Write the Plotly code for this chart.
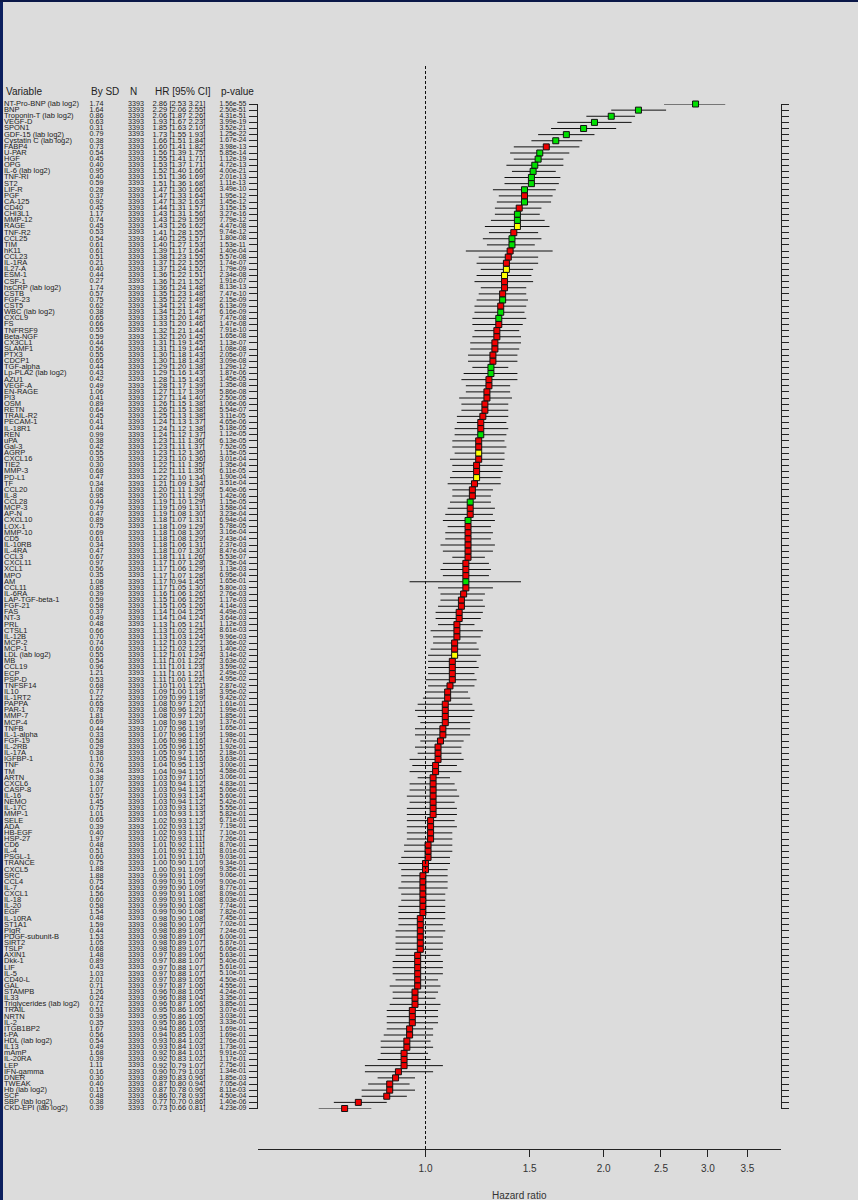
import math
import plotly.graph_objects as go

# ---- data -------------------------------------------------------------
variables = [
    "NT-Pro-BNP (lab log2)", "BNP", "Troponin-T (lab log2)", "VEGF-D", "SPON1",
    "GDF-15 (lab log2)", "Cystatin C (lab log2)", "FABP4", "U-PAR", "HGF",
    "OPG", "IL-6 (lab log2)", "TNF-RI", "ST2", "LIF-R", "PGF", "CA-125", "CD40",
    "CHI3L1", "MMP-12", "RAGE", "TNF-R2", "CCL25", "TIM", "hK11", "CCL23",
    "IL-1RA", "IL27-A", "ESM-1", "CSF-1", "hsCRP (lab log2)", "CSTB", "FGF-23",
    "CST5", "WBC (lab log2)", "CXCL9", "FS", "TNFRSF9", "Beta-NGF", "CX3CL1",
    "SLAMF1", "PTX3", "CDCP1", "TGF-alpha", "Lp-PLA2 (lab log2)", "AZU1",
    "VEGF-A", "EN-RAGE", "PI3", "OSM", "RETN", "TRAIL-R2", "PECAM-1", "IL-18R1",
    "REN", "uPA", "Gal-3", "AGRP", "CXCL16", "TIE2", "MMP-3", "PD-L1", "TF",
    "CCL20", "IL-8", "CCL28", "MCP-3", "AP-N", "CXCL10", "LOX-1", "MMP-10",
    "CD5", "IL-10RB", "IL-4RA", "CCL3", "CXCL11", "XCL1", "MPO", "AM", "CCL11",
    "IL-6RA", "LAP-TGF-beta-1", "FGF-21", "FAS", "NT-3", "PRL", "CTSL1",
    "IL-12B", "MCP-2", "MCP-1", "LDL (lab log2)", "MB", "CCL19", "ECP", "PSP-D",
    "TNFSF14", "IL10", "IL-1RT2", "PAPPA", "PAR-1", "MMP-7", "MCP-4", "TNFB",
    "IL-1-alpha", "FGF-19", "IL-2RB", "IL-17A", "IGFBP-1", "TNF", "TM", "ARTN",
    "CXCL6", "CASP-8", "IL-16", "NEMO", "IL-17C", "MMP-1", "SELE", "ADA",
    "HB-EGF", "HSP-27", "CD6", "IL-4", "PSGL-1", "TRANCE", "CXCL5", "SRC",
    "CCL4", "IL-7", "CXCL1", "IL-18", "IL-20", "EGF", "IL-10RA", "ST1A1",
    "PIgR", "PDGF-subunit-B", "SIRT2", "TSLP", "AXIN1", "Dkk-1", "LIF", "IL-5",
    "CD40-L", "GAL", "STAMPB", "IL33", "Triglycerides (lab log2)", "TRAIL",
    "NRTN", "IL-2", "ITGB1BP2", "t-PA", "HDL (lab log2)", "IL13", "mAmP",
    "IL-20RA", "LEP", "IFN-gamma", "DNER", "TWEAK", "Hb (lab log2)", "SCF",
    "SBP (lab log2)", "CKD-EPI (lab log2)",
]

by_sd = [
    1.74, 1.64, 0.86, 0.63, 0.31, 0.79, 0.38, 0.73, 0.54, 0.45,
    0.40, 0.95, 0.40, 0.59, 0.28, 0.37, 0.92, 0.45, 1.17, 0.74,
    0.45, 0.53, 0.54, 0.61, 0.61, 0.51, 0.21, 0.40, 0.44, 0.27,
    1.74, 0.57, 0.75, 0.62, 0.38, 0.65, 0.66, 0.55, 0.59, 0.44,
    0.56, 0.55, 0.65, 0.44, 0.43, 0.42, 0.49, 1.06, 0.41, 0.89,
    0.64, 0.45, 0.41, 0.44, 0.99, 0.38, 0.42, 0.55, 0.35, 0.30,
    0.68, 0.47, 0.34, 1.08, 0.95, 0.44, 0.79, 0.47, 0.89, 0.75,
    0.69, 0.61, 0.34, 0.47, 0.67, 0.97, 0.56, 0.35, 1.08, 0.85,
    0.39, 0.59, 0.58, 0.37, 0.49, 0.48, 0.66, 0.70, 0.74, 0.60,
    0.55, 0.54, 0.96, 1.21, 0.53, 0.68, 0.77, 1.22, 0.65, 0.78,
    1.81, 0.69, 0.44, 0.33, 0.58, 0.29, 0.38, 1.10, 0.76, 0.34,
    0.38, 1.07, 1.07, 0.57, 1.45, 0.75, 1.01, 0.65, 0.39, 0.40,
    1.97, 0.48, 0.51, 0.60, 0.75, 1.88, 1.88, 0.75, 0.64, 1.56,
    0.60, 0.58, 1.54, 0.48, 1.59, 0.44, 1.53, 1.05, 0.68, 1.48,
    0.89, 0.43, 1.03, 2.01, 0.71, 1.26, 0.24, 0.72, 0.51, 0.39,
    0.35, 1.67, 0.56, 0.54, 0.49, 1.68, 0.39, 1.11, 0.16, 0.30,
    0.40, 0.15, 0.48, 0.38, 0.39,
]

n_subjects = [3393] * len(variables)

hazard_ratio = [
    2.86, 2.29, 2.06, 1.93, 1.85, 1.73, 1.66, 1.60, 1.56, 1.55,
    1.53, 1.52, 1.51, 1.51, 1.47, 1.47, 1.47, 1.44, 1.43, 1.43,
    1.43, 1.41, 1.40, 1.40, 1.39, 1.38, 1.37, 1.37, 1.36, 1.36,
    1.36, 1.35, 1.35, 1.34, 1.34, 1.33, 1.33, 1.32, 1.32, 1.31,
    1.31, 1.30, 1.30, 1.29, 1.29, 1.28, 1.28, 1.27, 1.27, 1.26,
    1.26, 1.25, 1.24, 1.24, 1.24, 1.23, 1.23, 1.23, 1.23, 1.22,
    1.22, 1.22, 1.21, 1.20, 1.20, 1.19, 1.19, 1.19, 1.18, 1.18,
    1.18, 1.18, 1.18, 1.18, 1.18, 1.17, 1.17, 1.17, 1.17, 1.17,
    1.16, 1.15, 1.15, 1.14, 1.14, 1.13, 1.13, 1.13, 1.12, 1.12,
    1.12, 1.11, 1.11, 1.11, 1.11, 1.10, 1.09, 1.09, 1.08, 1.08,
    1.08, 1.08, 1.07, 1.07, 1.06, 1.05, 1.05, 1.05, 1.04, 1.04,
    1.03, 1.03, 1.03, 1.03, 1.03, 1.03, 1.03, 1.02, 1.02, 1.02,
    1.02, 1.01, 1.01, 1.01, 1.00, 1.00, 0.99, 0.99, 0.99, 0.99,
    0.99, 0.99, 0.99, 0.98, 0.98, 0.98, 0.98, 0.98, 0.98, 0.97,
    0.97, 0.97, 0.97, 0.97, 0.97, 0.96, 0.96, 0.96, 0.95, 0.95,
    0.95, 0.94, 0.94, 0.93, 0.93, 0.92, 0.92, 0.92, 0.90, 0.89,
    0.87, 0.87, 0.86, 0.77, 0.73,
]

ci_lower = [
    2.53, 2.06, 1.87, 1.67, 1.63, 1.55, 1.51, 1.41, 1.39, 1.41,
    1.37, 1.40, 1.36, 1.36, 1.30, 1.33, 1.32, 1.31, 1.31, 1.29,
    1.26, 1.28, 1.25, 1.27, 1.17, 1.23, 1.22, 1.24, 1.22, 1.21,
    1.24, 1.23, 1.22, 1.21, 1.21, 1.20, 1.20, 1.21, 1.20, 1.19,
    1.19, 1.18, 1.18, 1.20, 1.16, 1.15, 1.17, 1.17, 1.14, 1.15,
    1.15, 1.13, 1.13, 1.12, 1.12, 1.11, 1.11, 1.12, 1.10, 1.11,
    1.11, 1.10, 1.09, 1.11, 1.11, 1.10, 1.09, 1.08, 1.07, 1.09,
    1.08, 1.08, 1.06, 1.07, 1.11, 1.07, 1.06, 1.07, 0.94, 1.05,
    1.06, 1.06, 1.05, 1.04, 1.04, 1.05, 1.02, 1.03, 1.03, 1.02,
    1.01, 1.01, 1.01, 1.01, 1.00, 1.01, 1.00, 0.99, 0.97, 0.96,
    0.97, 0.98, 0.96, 0.96, 0.98, 0.96, 0.97, 0.94, 0.95, 0.94,
    0.97, 0.94, 0.94, 0.93, 0.94, 0.93, 0.93, 0.93, 0.93, 0.93,
    0.93, 0.92, 0.92, 0.91, 0.90, 0.91, 0.91, 0.91, 0.90, 0.91,
    0.91, 0.90, 0.90, 0.90, 0.90, 0.89, 0.89, 0.89, 0.89, 0.89,
    0.88, 0.88, 0.88, 0.89, 0.87, 0.88, 0.88, 0.87, 0.86, 0.86,
    0.86, 0.86, 0.85, 0.84, 0.84, 0.84, 0.83, 0.79, 0.79, 0.83,
    0.80, 0.78, 0.78, 0.70, 0.66,
]

ci_upper = [
    3.21, 2.55, 2.26, 2.23, 2.10, 1.93, 1.84, 1.82, 1.75, 1.71,
    1.71, 1.66, 1.69, 1.68, 1.66, 1.64, 1.63, 1.57, 1.56, 1.59,
    1.62, 1.55, 1.57, 1.53, 1.64, 1.55, 1.55, 1.52, 1.51, 1.52,
    1.48, 1.48, 1.49, 1.48, 1.47, 1.48, 1.46, 1.44, 1.45, 1.45,
    1.44, 1.43, 1.43, 1.38, 1.43, 1.43, 1.39, 1.39, 1.40, 1.38,
    1.38, 1.38, 1.37, 1.38, 1.37, 1.36, 1.37, 1.36, 1.36, 1.35,
    1.35, 1.34, 1.34, 1.30, 1.29, 1.29, 1.31, 1.30, 1.31, 1.29,
    1.30, 1.29, 1.31, 1.30, 1.26, 1.28, 1.29, 1.28, 1.45, 1.30,
    1.26, 1.25, 1.26, 1.25, 1.24, 1.21, 1.25, 1.24, 1.22, 1.23,
    1.24, 1.22, 1.23, 1.21, 1.22, 1.21, 1.18, 1.19, 1.20, 1.21,
    1.20, 1.19, 1.19, 1.19, 1.16, 1.15, 1.15, 1.16, 1.13, 1.15,
    1.10, 1.12, 1.13, 1.14, 1.12, 1.13, 1.13, 1.12, 1.13, 1.11,
    1.11, 1.11, 1.11, 1.10, 1.10, 1.09, 1.09, 1.09, 1.09, 1.08,
    1.08, 1.08, 1.08, 1.08, 1.07, 1.08, 1.07, 1.07, 1.07, 1.06,
    1.07, 1.07, 1.07, 1.05, 1.06, 1.05, 1.04, 1.06, 1.05, 1.05,
    1.05, 1.03, 1.03, 1.02, 1.03, 1.01, 1.02, 1.07, 1.03, 0.96,
    0.94, 0.96, 0.93, 0.86, 0.81,
]

p_values = [
    1.56e-55, 2.50e-51, 4.31e-51, 3.99e-19, 3.52e-21, 1.25e-22, 1.67e-24, 3.98e-13, 5.85e-14, 1.12e-19,
    4.72e-13, 4.00e-21, 2.01e-13, 1.11e-13, 3.49e-10, 1.95e-12, 1.45e-12, 3.15e-15, 3.27e-16, 7.79e-12,
    4.47e-08, 9.74e-12, 1.80e-08, 1.53e-11, 1.40e-04, 5.57e-08, 1.74e-07, 1.79e-09, 2.34e-08, 1.91e-07,
    8.13e-13, 7.47e-10, 2.15e-09, 6.13e-09, 6.16e-09, 7.47e-08, 1.47e-08, 7.91e-10, 1.65e-08, 1.13e-07,
    1.08e-08, 2.05e-07, 3.09e-08, 1.29e-12, 1.87e-06, 1.45e-05, 1.35e-08, 5.86e-08, 2.50e-05, 1.06e-06,
    5.54e-07, 3.11e-05, 4.65e-06, 5.18e-05, 1.12e-05, 6.13e-05, 7.52e-05, 1.15e-05, 3.01e-04, 1.35e-04,
    6.11e-05, 1.90e-04, 3.51e-04, 5.40e-06, 1.42e-06, 1.15e-05, 3.58e-04, 3.23e-04, 6.94e-04, 5.78e-05,
    3.16e-04, 2.43e-04, 2.37e-03, 8.47e-04, 5.53e-07, 3.75e-04, 1.13e-03, 6.95e-04, 1.65e-01, 5.80e-03,
    2.76e-03, 1.17e-03, 4.14e-03, 4.49e-03, 3.64e-03, 1.12e-03, 8.61e-03, 9.96e-03, 1.36e-02, 1.40e-02,
    3.14e-02, 3.63e-02, 3.59e-02, 2.49e-02, 4.95e-02, 2.87e-02, 3.95e-02, 9.42e-02, 1.61e-01, 1.99e-01,
    1.85e-01, 1.37e-01, 1.65e-01, 1.98e-01, 1.47e-01, 1.92e-01, 2.18e-01, 3.63e-01, 3.00e-01, 4.58e-01,
    3.06e-01, 4.83e-01, 5.06e-01, 5.60e-01, 5.42e-01, 5.55e-01, 5.82e-01, 6.71e-01, 7.19e-01, 7.10e-01,
    7.26e-01, 8.70e-01, 8.01e-01, 9.03e-01, 9.34e-01, 9.35e-01, 9.06e-01, 9.00e-01, 8.77e-01, 8.09e-01,
    8.03e-01, 7.74e-01, 7.82e-01, 7.45e-01, 7.02e-01, 7.24e-01, 6.00e-01, 5.87e-01, 6.06e-01, 5.63e-01,
    5.40e-01, 5.61e-01, 5.10e-01, 4.50e-01, 4.55e-01, 4.24e-01, 3.35e-01, 3.85e-01, 3.07e-01, 3.03e-01,
    3.33e-01, 1.69e-01, 1.69e-01, 1.76e-01, 1.73e-01, 9.91e-02, 1.17e-01, 2.75e-01, 1.34e-01, 1.85e-03,
    7.05e-04, 8.11e-03, 4.50e-04, 1.40e-06, 4.23e-09,
]

# marker class per variable: "g", "r" or "y"
marker_class = [
    "g", "g", "g", "g", "g", "g", "g", "r", "g", "g",
    "g", "g", "g", "g", "g", "r", "g", "r", "g", "g",
    "y", "r", "g", "g", "r", "r", "r", "y", "y", "r",
    "r", "r", "g", "r", "g", "g", "r", "r", "r", "r",
    "r", "r", "r", "g", "g", "r", "r", "r", "r", "r",
    "r", "r", "r", "r", "g", "r", "r", "y", "r", "r",
    "r", "y", "r", "r", "r", "g", "r", "r", "g", "r",
    "r", "r", "r", "r", "r", "r", "r", "r", "g", "r",
    "r", "r", "r", "r", "r", "r", "r", "r", "r", "r",
    "y", "r", "r", "r", "r", "r", "r", "r", "r", "r",
    "r", "r", "r", "r", "r", "r", "r", "r", "r", "r",
    "r", "r", "r", "r", "r", "r", "r", "r", "r", "r",
    "r", "r", "r", "r", "r", "r", "r", "r", "r", "r",
    "r", "r", "r", "r", "r", "r", "r", "r", "r", "r",
    "r", "r", "r", "r", "r", "r", "r", "r", "r", "r",
    "r", "r", "r", "r", "r", "r", "r", "r", "r", "r",
    "r", "r", "r", "r", "r",
]

x_ticks = [1.0, 1.5, 2.0, 2.5, 3.0, 3.5]
x_tick_labels = ["1.0", "1.5", "2.0", "2.5", "3.0", "3.5"]
column_headers = ["Variable", "By SD", "N", "HR [95% CI]", "p-value"]

# ---- styling ----------------------------------------------------------
W, H = 858, 1200
BG = "#dcdcdc"
INK = "#222222"
CLASS_COLOURS = {"g": "#00e000", "r": "#f00000", "y": "#ffff00"}
FONT = "Liberation Sans, Arial, sans-serif"

n = len(variables)
rows = list(range(n))

# pixel layout of the forest panel
PLOT_LEFT, PLOT_RIGHT = 258, 781
ROW_TOP, ROW_BOTTOM = 104, 1108.5
AXIS_Y = 1149
PX_PER_LN = 257.0
X_ONE = 425.5
log_lo = (PLOT_LEFT - X_ONE) / PX_PER_LN / math.log(10)
log_hi = (PLOT_RIGHT - X_ONE) / PX_PER_LN / math.log(10)


def py(pix):
    """pixel row (from top) -> paper fraction"""
    return (H - pix) / H


fig = go.Figure()

# confidence intervals + squares
fig.add_trace(go.Scatter(
    x=hazard_ratio, y=rows, mode="markers",
    marker=dict(symbol="square", size=6,
                color=[CLASS_COLOURS[c] for c in marker_class],
                line=dict(color="#111111", width=1)),
    error_x=dict(type="data", symmetric=False,
                 array=[h - m for h, m in zip(ci_upper, hazard_ratio)],
                 arrayminus=[m - l for m, l in zip(hazard_ratio, ci_lower)],
                 color="#111111", thickness=1, width=0),
    cliponaxis=False, hoverinfo="skip",
))

# right-hand tick axis holder
fig.add_trace(go.Scatter(x=[1.0], y=[0], yaxis="y2", mode="markers",
                         marker=dict(opacity=0), hoverinfo="skip"))

# text columns
sd_text = [f"{v:.2f}" for v in by_sd]
n_text = [str(v) for v in n_subjects]
hr_text = [f"{h:.2f} [{l:.2f} {u:.2f}]" for h, l, u in zip(hazard_ratio, ci_lower, ci_upper)]
p_text = [f"{p:.2e}" for p in p_values]

columns = [
    (4, variables, 7.5),
    (89.5, sd_text, 7.2),
    (128, n_text, 7.2),
    (152.5, hr_text, 7.6),
    (219.5, p_text, 6.8),
]
for xpos, texts, size in columns:
    fig.add_trace(go.Scatter(
        x=[xpos] * n, y=rows, xaxis="x2", yaxis="y", mode="text",
        text=texts, textposition="middle right",
        textfont=dict(family=FONT, size=size, color=INK),
        cliponaxis=False, hoverinfo="skip",
    ))

# header row
header_x = [3.5, 89.3, 128, 153, 219]
annotations = []
for hx, label in zip(header_x, column_headers):
    annotations.append(dict(
        x=hx, y=py(91.5), xref="x2", yref="paper", text=label,
        showarrow=False, xanchor="left", yanchor="middle",
        font=dict(family=FONT, size=10, color=INK),
    ))
annotations.append(dict(
    x=(PLOT_LEFT + PLOT_RIGHT) / 2 / W, y=py(1195), xref="paper", yref="paper",
    text="Hazard ratio", showarrow=False, xanchor="center", yanchor="middle",
    font=dict(family=FONT, size=10, color="#333333"),
))

shapes = [
    # reference line at HR = 1
    dict(type="line", xref="x", yref="paper", x0=1.0, x1=1.0,
         y0=py(AXIS_Y), y1=py(65), line=dict(color="#111111", width=1, dash="3px,2px")),
    # window frame
    dict(type="rect", xref="paper", yref="paper", x0=0, x1=3 / W, y0=0, y1=1,
         fillcolor="#0c1f5e", line=dict(width=0)),
    dict(type="rect", xref="paper", yref="paper", x0=0, x1=1, y0=1 - 2 / H, y1=1,
         fillcolor="#0a1748", line=dict(width=0)),
]

y_domain = [py(ROW_BOTTOM), py(ROW_TOP)]
y_range = [n - 1, 0]

fig.update_layout(
    width=W, height=H, margin=dict(l=0, r=0, t=0, b=0),
    paper_bgcolor=BG, plot_bgcolor="rgba(0,0,0,0)", showlegend=False,
    xaxis=dict(type="log", domain=[PLOT_LEFT / W, PLOT_RIGHT / W],
               range=[log_lo, log_hi], anchor="free", position=py(AXIS_Y),
               showline=True, linecolor=INK, linewidth=1,
               ticks="outside", ticklen=7, tickcolor=INK, tickwidth=1,
               tickvals=x_ticks, ticktext=x_tick_labels,
               tickfont=dict(family=FONT, size=10, color="#333333"),
               ticklabelstandoff=3,
               showgrid=False, zeroline=False, fixedrange=True),
    xaxis2=dict(domain=[0, 1], range=[0, W], anchor="y", visible=False,
                fixedrange=True),
    yaxis=dict(domain=y_domain, range=y_range, anchor="x", side="left",
               showline=True, linecolor=INK, linewidth=1,
               ticks="outside", ticklen=8, tickcolor=INK, tickwidth=1,
               tickvals=rows, showticklabels=False,
               showgrid=False, zeroline=False, fixedrange=True),
    yaxis2=dict(domain=y_domain, range=y_range, overlaying="y", anchor="x",
                side="right", showline=True, linecolor=INK, linewidth=1,
                ticks="outside", ticklen=7, tickcolor=INK, tickwidth=1,
                tickvals=rows, showticklabels=False,
                showgrid=False, zeroline=False, fixedrange=True),
    annotations=annotations, shapes=shapes,
)

fig.write_html("out.html")
